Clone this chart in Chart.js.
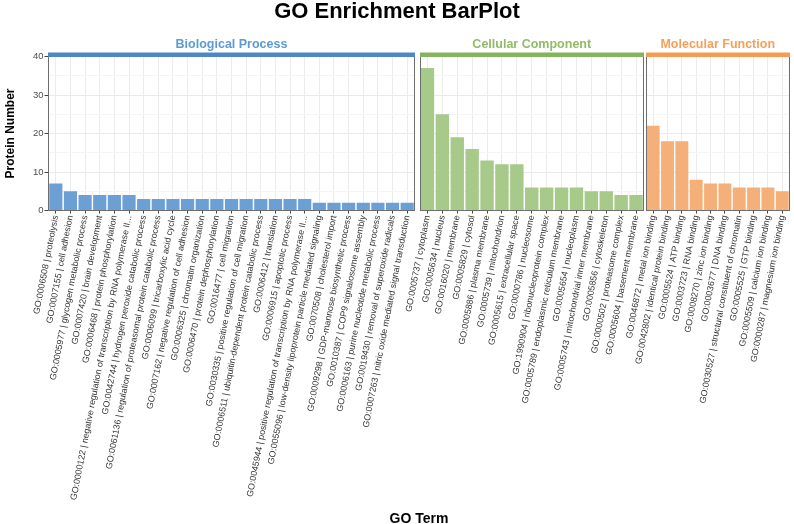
<!DOCTYPE html>
<html>
<head>
<meta charset="utf-8">
<script src="https://cdn.jsdelivr.net/npm/chart.js@4.4.1/dist/chart.umd.min.js"></script>
<style>
  body { margin: 0; background: #fff; }
  #wrap { position: relative; width: 794px; height: 524px; overflow: hidden; font-family: 'Liberation Sans', Arial, sans-serif; }
  canvas { position: absolute; top: 0; }
  .lbl { position: absolute; font-weight: bold; color: #000; text-align: center; white-space: nowrap; }
</style>
</head>
<body>
<div id="wrap">
  <canvas id="bp" width="428" height="524" style="left:0"></canvas>
  <canvas id="cc" width="297" height="524" style="left:360px"></canvas>
  <canvas id="mf" width="208" height="524" style="left:586px"></canvas>
  <div class="lbl" style="left:0;top:0;width:794px;font-size:22px;line-height:22px">GO Enrichment BarPlot</div>
  <div class="lbl" style="left:48px;top:509px;width:742px;font-size:14px;line-height:18px">GO Term</div>
</div>
<script>
// GO terms and protein counts, per category
const bpTerms = [
  'GO:0006508 | proteolysis',
  'GO:0007155 | cell adhesion',
  'GO:0005977 | glycogen metabolic process',
  'GO:0007420 | brain development',
  'GO:0006468 | protein phosphorylation',
  'GO:0000122 | negative regulation of transcription by RNA polymerase II...',
  'GO:0042744 | hydrogen peroxide catabolic process',
  'GO:0061136 | regulation of proteasomal protein catabolic process',
  'GO:0006099 | tricarboxylic acid cycle',
  'GO:0007162 | negative regulation of cell adhesion',
  'GO:0006325 | chromatin organization',
  'GO:0006470 | protein dephosphorylation',
  'GO:0016477 | cell migration',
  'GO:0030335 | positive regulation of cell migration',
  'GO:0006511 | ubiquitin-dependent protein catabolic process',
  'GO:0006412 | translation',
  'GO:0006915 | apoptotic process',
  'GO:0045944 | positive regulation of transcription by RNA polymerase II...',
  'GO:0055096 | low-density lipoprotein particle mediated signaling',
  'GO:0070508 | cholesterol import',
  'GO:0009298 | GDP-mannose biosynthetic process',
  'GO:0010387 | COP9 signalosome assembly',
  'GO:0006163 | purine nucleotide metabolic process',
  'GO:0019430 | removal of superoxide radicals',
  'GO:0007263 | nitric oxide mediated signal transduction'
];
const bpCounts = [7, 5, 4, 4, 4, 4, 3, 3, 3, 3, 3, 3, 3, 3, 3, 3, 3, 3, 2, 2, 2, 2, 2, 2, 2];

const ccTerms = [
  'GO:0005737 | cytoplasm',
  'GO:0005634 | nucleus',
  'GO:0016020 | membrane',
  'GO:0005829 | cytosol',
  'GO:0005886 | plasma membrane',
  'GO:0005739 | mitochondrion',
  'GO:0005615 | extracellular space',
  'GO:0000786 | nucleosome',
  'GO:1990904 | ribonucleoprotein complex',
  'GO:0005789 | endoplasmic reticulum membrane',
  'GO:0005654 | nucleoplasm',
  'GO:0005743 | mitochondrial inner membrane',
  'GO:0005856 | cytoskeleton',
  'GO:0000502 | proteasome complex',
  'GO:0005604 | basement membrane'
];
const ccCounts = [37, 25, 19, 16, 13, 12, 12, 6, 6, 6, 6, 5, 5, 4, 4];

const mfTerms = [
  'GO:0046872 | metal ion binding',
  'GO:0042802 | identical protein binding',
  'GO:0005524 | ATP binding',
  'GO:0003723 | RNA binding',
  'GO:0008270 | zinc ion binding',
  'GO:0003677 | DNA binding',
  'GO:0030527 | structural constituent of chromatin',
  'GO:0005525 | GTP binding',
  'GO:0005509 | calcium ion binding',
  'GO:0000287 | magnesium ion binding'
];
const mfCounts = [22, 18, 18, 8, 7, 7, 6, 6, 6, 5];

const yMax = 40;
const yStep = 10;

Chart.defaults.font.family = "'Liberation Sans', Arial, sans-serif";

// snap to the pixel grid like Chart.js does for its own 1px lines
const snap = p => Math.round(p - 0.5) + 0.5;

// colored strip on top of each panel + the grey frame
const panelFrame = {
  id: 'panelFrame',
  afterDatasetsDraw(chart, args, opts) {
    const a = chart.chartArea;
    const ctx = chart.ctx;
    const l = snap(a.left), r = snap(a.right), t = snap(a.top), b = snap(a.bottom);
    ctx.save();
    ctx.strokeStyle = '#6e6e6e';
    ctx.lineWidth = 1;
    ctx.strokeRect(l, t, r - l, b - t);
    ctx.fillStyle = opts.strip;
    ctx.fillRect(l - 0.5, t - 4, r - l + 1, 4.5);
    ctx.restore();
  }
};

function makePanel(id, terms, counts, bar, strip, titleColor, name, pad, first) {
  new Chart(document.getElementById(id), {
    type: 'bar',
    data: {
      labels: terms,
      datasets: [{
        data: counts,
        backgroundColor: bar,
        borderWidth: 0,
        barPercentage: 0.9,
        categoryPercentage: 1
      }]
    },
    options: {
      responsive: false,
      animation: false,
      layout: { padding: { left: pad.left, right: pad.right, top: 0, bottom: 0 } },
      plugins: {
        legend: { display: false },
        tooltip: { enabled: false },
        title: {
          display: true,
          text: name,
          color: titleColor,
          fullSize: false,
          font: { size: 12.5, weight: 'bold' },
          padding: { top: 37.5, bottom: 4 }
        },
        panelFrame: { strip: strip }
      },
      scales: {
        x: {
          grid: { offset: false, color: '#ebebeb', tickColor: '#444', tickLength: 3 },
          border: { color: '#6e6e6e' },
          ticks: {
            autoSkip: false,
            minRotation: 79,
            maxRotation: 79,
            padding: 1,
            color: '#333',
            font: { size: 8.9 }
          },
          afterFit: s => { s.height = 313.5; }
        },
        y: {
          min: 0,
          max: yMax,
          grid: {
            color: c => (c.tick && c.tick.value % yStep) ? '#f4f4f4' : '#ebebeb',
            tickColor: c => (c.tick && c.tick.value % yStep) ? 'rgba(0,0,0,0)' : '#444',
            tickLength: 4,
            drawTicks: first
          },
          border: { color: '#6e6e6e' },
          ticks: {
            display: first,
            stepSize: yStep / 2,
            padding: 1,
            color: '#4d4d4d',
            font: { size: 9.5 },
            callback: v => v % yStep === 0 ? v : ''
          },
          title: {
            display: first,
            text: 'Protein Number',
            color: '#000',
            font: { size: 12, weight: 'bold' },
            padding: { top: 3, bottom: 0 }
          },
          afterFit: s => { s.width = first ? 48.5 : 0; }
        }
      }
    },
    plugins: [panelFrame]
  });
}

makePanel('bp', bpTerms, bpCounts, '#6ca0d5', '#4f87c6', '#5b9bd5', 'Biological Process', { left: 0, right: 13.5 }, true);
makePanel('cc', ccTerms, ccCounts, '#a7c98a', '#86b35e', '#8fbd66', 'Cellular Component', { left: 60, right: 13.5 }, false);
makePanel('mf', mfTerms, mfCounts, '#f4b078', '#f59c52', '#f5a05a', 'Molecular Function', { left: 60, right: 4.5 }, false);
</script>
</body>
</html>
